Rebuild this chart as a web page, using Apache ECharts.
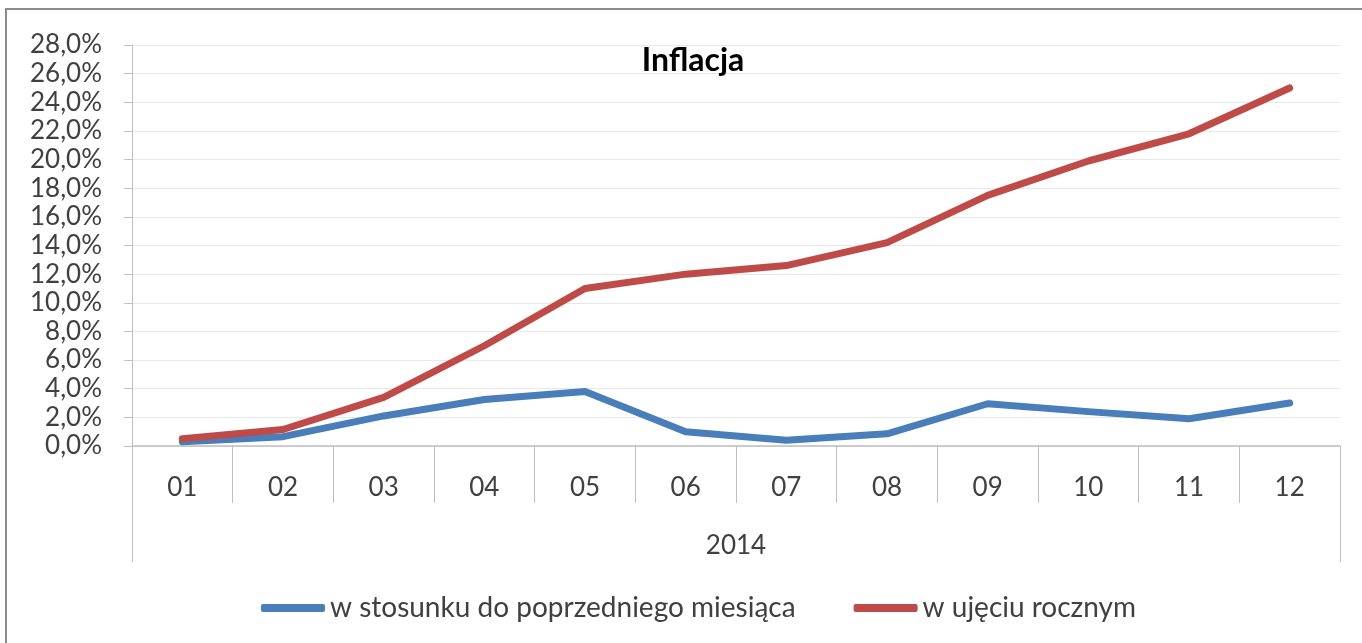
<!DOCTYPE html>
<html>
<head>
<meta charset="utf-8">
<script src="https://cdn.jsdelivr.net/npm/echarts@6/dist/echarts.min.js"></script>
<style>
html, body { margin: 0; padding: 0; background: #fff; }
#main { width: 1362px; height: 643px; }
</style>
</head>
<body>
<div id="main"></div>
<script>
// dane
var miesiace = ['01', '02', '03', '04', '05', '06', '07', '08', '09', '10', '11', '12'];
var rok = ['2014'];
var mdm = [0.3, 0.65, 2.1, 3.25, 3.8, 1.0, 0.4, 0.85, 2.95, 2.4, 1.9, 3.0];
var rdr = [0.5, 1.15, 3.4, 7.0, 11.0, 12.0, 12.6, 14.2, 17.5, 19.9, 21.8, 25.0];
var nazwy = ['w stosunku do poprzedniego miesiąca', 'w ujęciu rocznym'];

var myChart = echarts.init(document.getElementById('main'));

var font = 'Lato';
var txt = '#404040';
var os = '#bfbfbf';

var option = {
    animation: false,
    backgroundColor: '#fff',
    title: {
        text: 'Inflacja',
        left: 688,
        textAlign: 'center',
        top: 40,
        textStyle: { fontFamily: font, fontSize: 32, fontWeight: 'bold', color: '#000' }
    },
    // ramka wykresu
    graphic: [{
        type: 'rect',
        shape: { x: 6, y: 9, width: 1400, height: 700 },
        style: { fill: 'none', stroke: '#8c8c8c', lineWidth: 2 },
        silent: true
    }],
    legend: {
        data: nazwy,
        left: 256,
        top: 589,
        itemWidth: 64,
        itemHeight: 8,
        itemGap: 58,
        icon: 'roundRect',
        textStyle: { fontFamily: font, fontSize: 28, color: txt }
    },
    grid: { left: 132, right: 22, top: 45, bottom: 197 },
    xAxis: [{
        type: 'category',
        data: miesiace,
        boundaryGap: true,
        axisLine: { show: true, lineStyle: { color: os, width: 1.5 } },
        axisTick: { show: true, interval: 0, length: 57, lineStyle: { color: os, width: 1 } },
        axisLabel: { margin: 29, fontFamily: font, fontSize: 26, color: txt }
    }, {
        // poziom roku
        type: 'category',
        data: rok,
        position: 'bottom',
        boundaryGap: true,
        axisLine: { show: false },
        axisTick: { show: true, interval: 0, length: 116, lineStyle: { color: os, width: 1 } },
        axisLabel: { margin: 87, fontFamily: font, fontSize: 26, color: txt }
    }],
    yAxis: {
        type: 'value',
        min: 0,
        max: 28,
        interval: 2,
        axisLine: { show: true, lineStyle: { color: os } },
        axisTick: { show: true, length: 8, lineStyle: { color: os } },
        axisLabel: {
            margin: 30,
            fontFamily: font,
            fontSize: 26,
            color: txt,
            formatter: function (v) { return v.toFixed(1).replace('.', ',') + '%'; }
        },
        splitLine: { lineStyle: { color: '#e8e8e8' } }
    },
    series: [{
        name: nazwy[0],
        type: 'line',
        data: mdm,
        symbol: 'none',
        color: '#4a7ebb',
        lineStyle: { width: 7, cap: 'round', join: 'round' }
    }, {
        name: nazwy[1],
        type: 'line',
        data: rdr,
        symbol: 'none',
        color: '#be4b48',
        lineStyle: { width: 7, cap: 'round', join: 'round' }
    }]
};

myChart.setOption(option);
</script>
</body>
</html>
